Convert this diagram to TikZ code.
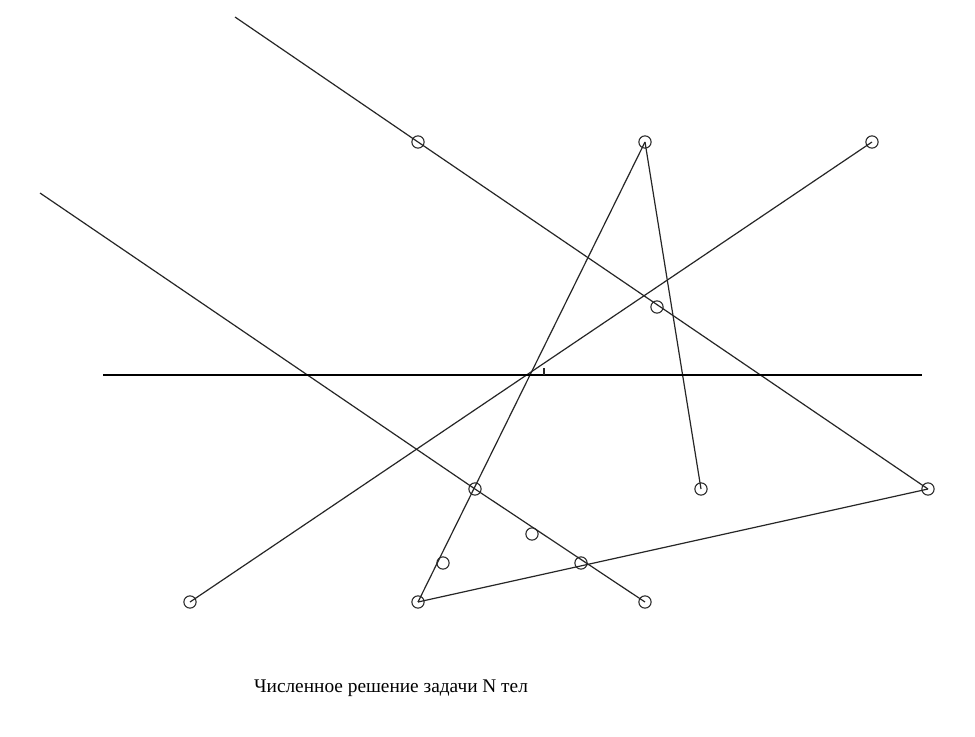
\documentclass[tikz,border=0pt]{standalone}
\usepackage{fontspec}
\setmainfont{Liberation Serif}
\begin{document}
\begin{tikzpicture}[x=0.75pt,y=-0.75pt,
  body/.style={circle,draw=black!85,line width=0.8pt,inner sep=0pt,minimum size=9.2pt},
  track/.style={draw=black!85,line width=0.9pt},
  axisline/.style={draw=black,line width=1.3pt}]
\useasboundingbox (0,0) rectangle (975,736);
\fill[white] (0,0) rectangle (975,736);
% bodies
\node[body] (A) at (418,142) {};
\node[body] (B) at (645,142) {};
\node[body] (C) at (872,142) {};
\node[body] (D) at (657,307) {};
\node[body] (E) at (475,489) {};
\node[body] (F) at (701,489) {};
\node[body] (G) at (928,489) {};
\node[body] (H) at (532,534) {};
\node[body] (I) at (443,563) {};
\node[body] (J) at (581,563) {};
\node[body] (K) at (190,602) {};
\node[body] (L) at (418,602) {};
\node[body] (M) at (645,602) {};
% free ends
\coordinate (P1) at (235,17);
\coordinate (P2) at (40,193);
\coordinate (X1) at (103,375);
\coordinate (X2) at (922,375);
\coordinate (T1) at (544,375);
\coordinate (T2) at (544,368);
% connectors
\draw[track] (P1) -- (A.center) -- (G.center);
\draw[track] (P2) -- (E.center) -- (M.center);
\draw[track] (K.center) -- (C.center);
\draw[track] (B.center) -- (L.center);
\draw[track] (B.center) -- (F.center);
\draw[track] (L.center) -- (G.center);
\draw[axisline] (X1) -- (X2);
\draw[track] (T1) -- (T2);
% caption
\node[font=\fontsize{14.5pt}{17pt}\selectfont] (cap) at (391,688) {Численное решение задачи N тел};
\end{tikzpicture}
\end{document}
